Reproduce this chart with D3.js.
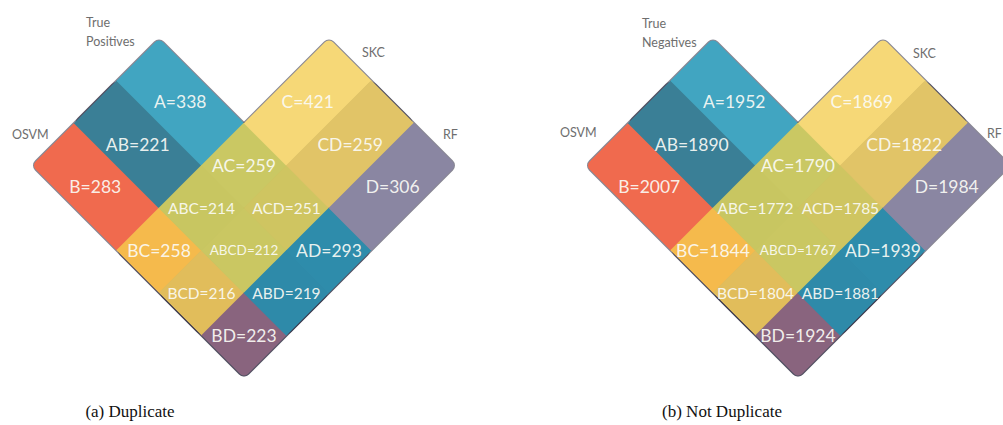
<!DOCTYPE html>
<html>
<head>
<meta charset="utf-8">
<script src="https://cdn.jsdelivr.net/npm/d3@7"></script>
<style>
  html, body { margin: 0; padding: 0; background: #fff; }
  svg { display: block; }
</style>
</head>
<body>
<svg id="chart" width="1003" height="425"></svg>
<script>
// Region keys of the four-set diagram (A = top-left band, B = OSVM, C = SKC, D = RF)
const regionKeys = ["A", "B", "C", "D", "AB", "AC", "AD", "BC", "BD", "CD",
                    "ABC", "ABD", "ACD", "BCD", "ABCD"];

// Counts per region for each panel
const duplicateValues    = [338, 283, 421, 306, 221, 259, 293, 258, 223, 259, 214, 219, 251, 216, 212];
const notDuplicateValues = [1952, 2007, 1869, 1984, 1890, 1790, 1939, 1844, 1924, 1822, 1772, 1881, 1785, 1804, 1767];

// Fill colour of every region
const regionColors = {
  A: "#41a5c1", B: "#f06a4e", C: "#f6d877", D: "#8a86a2",
  AB: "#3a7f96", AC: "#cac863", AD: "#2e8cab", BC: "#f5ba4c", BD: "#89647e", CD: "#e1c467",
  ABC: "#c8c661", ABD: "#2e8aa9", ACD: "#cfc561", BCD: "#e1bd5b", ABCD: "#cac762"
};

// Panel texts
const panelTitles   = [["True", "Positives"], ["True", "Negatives"]];
const setNames      = ["OSVM", "SKC", "RF"];
const panelCaptions = ["(a) Duplicate", "(b) Not Duplicate"];

const svg = d3.select("#chart");

// Each set is a band in a rotated (u, v) grid: u runs down-right, v runs up-right.
const setBands = [
  { key: "A", u: [0, 2.5], v: [0.5, 1.5] },
  { key: "B", u: [0, 2.5], v: [0, 1] },
  { key: "C", u: [1, 2],   v: [0, 2.5] },
  { key: "D", u: [1.5, 2.5], v: [0, 2.5] }
];
const uBreaks = [0, 1, 1.5, 2, 2.5];
const vBreaks = [0, 0.5, 1, 1.5, 2.5];

const side = d3.scaleLinear().domain([0, 2.5]).range([0, 300.5]);
const R = Math.SQRT1_2;

// Build grid cells and tag each with the sets that cover it
const cells = [];
for (let i = 0; i < uBreaks.length - 1; i++) {
  for (let j = 0; j < vBreaks.length - 1; j++) {
    const cu = (uBreaks[i] + uBreaks[i + 1]) / 2, cv = (vBreaks[j] + vBreaks[j + 1]) / 2;
    const key = setBands.filter(s => cu > s.u[0] && cu < s.u[1] && cv > s.v[0] && cv < s.v[1])
                        .map(s => s.key).join("");
    if (key) cells.push({ key, u0: uBreaks[i], u1: uBreaks[i + 1], v0: vBreaks[j], v1: vBreaks[j + 1], cu, cv });
  }
}

const panels = [
  { ox: 31.5, oy: 165.5, values: duplicateValues, title: panelTitles[0], caption: panelCaptions[0], capX: 130,
    titleXY: [86, 22], nameXY: [[12, 134], [362, 52], [443, 134]] },
  { ox: 585.5, oy: 165.5, values: notDuplicateValues, title: panelTitles[1], caption: panelCaptions[1], capX: 722,
    titleXY: [642, 23], nameXY: [[560, 132], [913, 53], [987, 133]] }
];

panels.forEach((p, pi) => {
  const valueOf = k => p.values[regionKeys.indexOf(k)];
  const toScreen = (u, v) => [p.ox + (side(v) + side(u)) * R, p.oy + (side(u) - side(v)) * R];

  const clipId = "union-" + pi;
  const rot = svg.append("g").attr("transform", `translate(${p.ox},${p.oy}) rotate(-45)`);

  // Union of the four rounded bands, used to clip the cells
  rot.append("clipPath").attr("id", clipId)
    .selectAll("rect").data(setBands).join("rect")
    .attr("x", d => side(d.v[0])).attr("y", d => side(d.u[0]))
    .attr("width", d => side(d.v[1]) - side(d.v[0]))
    .attr("height", d => side(d.u[1]) - side(d.u[0]))
    .attr("rx", 6).attr("ry", 6);

  // Outline drawn first; the cells cover its inner half, leaving a thin outer edge
  rot.append("g").selectAll("rect").data(setBands).join("rect")
    .attr("x", d => side(d.v[0])).attr("y", d => side(d.u[0]))
    .attr("width", d => side(d.v[1]) - side(d.v[0]))
    .attr("height", d => side(d.u[1]) - side(d.u[0]))
    .attr("rx", 6).attr("ry", 6)
    .attr("fill", "none")
    .attr("stroke", "rgba(40,38,60,0.55)")
    .attr("stroke-width", 2);

  rot.append("g").attr("clip-path", `url(#${clipId})`)
    .selectAll("rect").data(cells).join("rect")
    .attr("x", d => side(d.v0) - 0.3).attr("y", d => side(d.u0) - 0.3)
    .attr("width", d => side(d.v1) - side(d.v0) + 0.6)
    .attr("height", d => side(d.u1) - side(d.u0) + 0.6)
    .attr("fill", d => regionColors[d.key]);

  // Region labels
  svg.append("g").selectAll("text").data(cells).join("text")
    .attr("x", d => toScreen(d.cu, d.cv)[0])
    .attr("y", d => toScreen(d.cu, d.cv)[1])
    .attr("text-anchor", "middle")
    .attr("dominant-baseline", "central")
    .attr("font-family", "Lato, 'Open Sans', sans-serif")
    .attr("font-size", d => d.key.length <= 2 ? 17.5 : d.key.length === 3 ? 15.5 : 13.5)
    .attr("fill", "#fbfbf6")
    .attr("fill-opacity", 0.93)
    .text(d => `${d.key}=${valueOf(d.key)}`);

  // Panel title and set names
  const lab = svg.append("g")
    .attr("font-family", "Lato, 'Open Sans', sans-serif")
    .attr("font-size", 12.5)
    .attr("fill", "#6e6e6e")
    .attr("dominant-baseline", "central");
  p.title.forEach((t, i) => lab.append("text")
    .attr("x", p.titleXY[0]).attr("y", p.titleXY[1] + i * 19.5).text(t));
  setNames.forEach((t, i) => lab.append("text")
    .attr("x", p.nameXY[i][0]).attr("y", p.nameXY[i][1]).text(t));

  // Caption
  svg.append("text")
    .attr("x", p.capX).attr("y", 417)
    .attr("text-anchor", "middle")
    .attr("font-family", "'Liberation Serif', 'Times New Roman', serif")
    .attr("font-size", 17)
    .attr("fill", "#111")
    .text(p.caption);
});
</script>
</body>
</html>
